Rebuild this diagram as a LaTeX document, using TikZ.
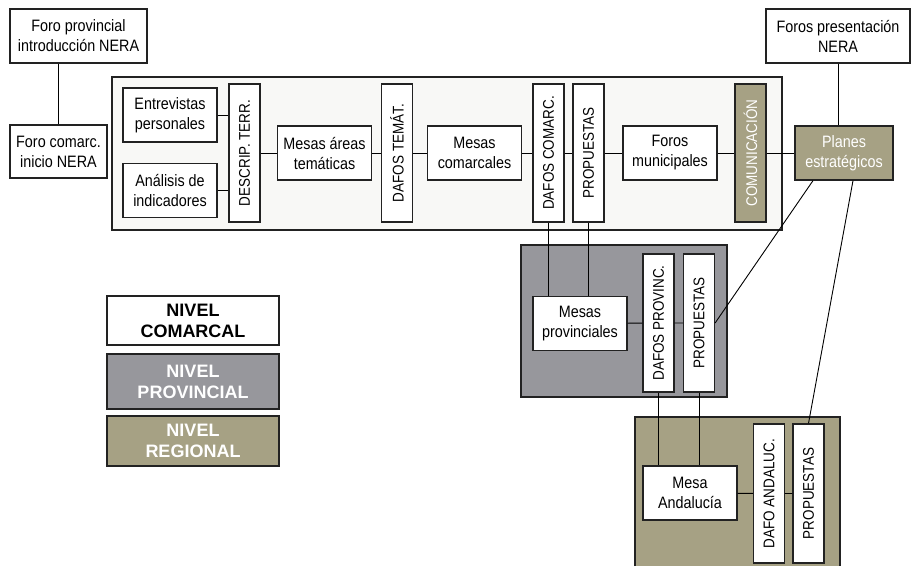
\documentclass[tikz,border=0pt]{standalone}
\usepackage{fontspec}
\setmainfont[FakeStretch=0.87]{Liberation Sans}
\newfontfamily\legendfont{Liberation Sans}
\usepackage{xcolor}
\definecolor{comfill}{HTML}{F8F8F6}
\definecolor{provfill}{HTML}{97979C}
\definecolor{regfill}{HTML}{A6A184}
\definecolor{edge}{HTML}{222222}

\tikzset{
  box/.style={rectangle, draw=edge, line width=1.2pt, fill=white, inner sep=0pt,
              align=center, font=\fontsize{16.5}{20}\selectfont},
  vbox/.style={box, minimum width=31, minimum height=138, font=\fontsize{15.5}{18}\selectfont},
  wide/.style={minimum width=94, minimum height=54},
  legend/.style={box, minimum width=172, font=\legendfont\bfseries\fontsize{18}{21}\selectfont},
  link/.style={draw=black, line width=0.9pt}
}

\begin{document}
\begin{tikzpicture}[x=1pt, y=-1pt]
  \useasboundingbox (0,0) rectangle (911,566);

  % levels
  \draw[edge, line width=1.2pt, fill=comfill] (112,77) rectangle (782,230);
  \draw[edge, line width=1.2pt, fill=provfill] (521,245) rectangle (727,397);
  \fill[regfill] (635,417) rectangle (840,566);
  \draw[edge, line width=1.2pt] (635,566) |- (840,417) -- (840,566);

  \node (fprov) at (78.5, 36) [box, minimum width=137, minimum height=54] {Foro provincial\\introducción NERA};
  \node (fcom) at (58.5, 151.5) [box, minimum width=97, minimum height=53] {Foro comarc.\\inicio NERA};
  \node (fpres) at (838, 36) [box, minimum width=144, minimum height=54] {Foros presentación\\NERA};

  % comarcal
  \node (entrev) at (170, 115) [box, wide] {Entrevistas\\personales};
  \node (anal) at (170, 190.5) [box, wide] {Análisis de\\indicadores};
  \node (descrip) at (244.5, 153) [vbox] {\rotatebox{90}{DESCRIP. TERR.}};
  \node (mareas) at (324.5, 153) [box, wide] {Mesas áreas\\temáticas};
  \node (dtemat) at (397, 153) [vbox] {\rotatebox{90}{DAFOS TEMÁT.}};
  \node (mcomar) at (474.5, 153) [box, wide] {Mesas\\comarcales};
  \node (dcomar) at (548.5, 153) [vbox] {\rotatebox{90}{DAFOS COMARC.}};
  \node (propc) at (588.5, 153) [vbox] {\rotatebox{90}{PROPUESTAS}};
  \node (fmuni) at (670, 153) [box, wide] {Foros\\municipales};
  \node (comun) at (750.5, 153) [vbox, fill=regfill, text=white] {\rotatebox{90}{COMUNICACIÓN}};
  \node (planes) at (844, 153) [box, minimum width=98, minimum height=54, fill=regfill, text=white] {Planes\\estratégicos};

  % provincial
  \node (mprov) at (580, 323.5) [box, wide] {Mesas\\provinciales};
  \node (dprov) at (658.5, 323) [vbox] {\rotatebox{90}{DAFOS PROVINC.}};
  \node (propp) at (699, 323) [vbox] {\rotatebox{90}{PROPUESTAS}};

  % regional
  \node (mand) at (690, 493) [box, wide] {Mesa\\Andalucía};
  \node (dand) at (769, 493.5) [vbox, minimum height=139] {\rotatebox{90}{DAFO ANDALUC.}};
  \node (propr) at (808.5, 493.5) [vbox, minimum height=139] {\rotatebox{90}{PROPUESTAS}};

  % legend
  \node (lcom) at (193, 320.5) [legend, minimum height=49] {NIVEL\\COMARCAL};
  \node (lprov) at (193, 381.5) [legend, minimum height=55, fill=provfill, text=white] {NIVEL\\PROVINCIAL};
  \node (lreg) at (193, 441) [legend, minimum height=50, fill=regfill, text=white] {NIVEL\\REGIONAL};

  % links
  \draw[link] (fcom.north) -- (fcom.north |- fprov.south);
  \draw[link] (fpres.south) -- (fpres.south |- planes.north);
  \draw[link] (entrev.east) -- (entrev.east -| descrip.west);
  \draw[link] (anal.east) -- (anal.east -| descrip.west);
  \draw[link] (descrip) -- (mareas) -- (dtemat) -- (mcomar) -- (dcomar) -- (propc) -- (fmuni) -- (comun) -- (planes);
  \draw[link] (dcomar.south) -- (dcomar.south |- mprov.north);
  \draw[link] (propc.south) -- (propc.south |- mprov.north);
  \draw[link] (mprov) -- (dprov) -- (propp);
  \draw[link] (dprov.south) -- (dprov.south |- mand.north);
  \draw[link] (propp.south) -- (propp.south |- mand.north);
  \draw[link] (mand) -- (dand) -- (propr);
  \draw[link] ([xshift=-31pt]planes.south) -- (propp.east);
  \draw[link] ([xshift=9pt]planes.south) -- (propr.north);
\end{tikzpicture}
\end{document}
